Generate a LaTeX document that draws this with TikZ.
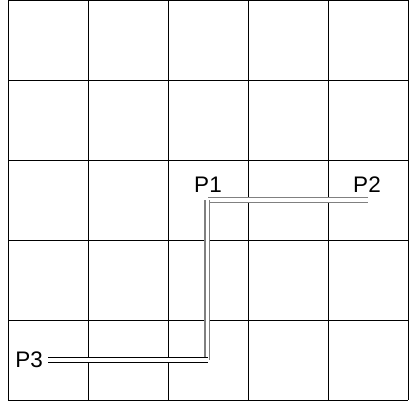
\documentclass[tikz,border=0pt]{standalone}
\usepackage{fontspec}
\setmainfont{Liberation Sans}
\tikzset{
  gridline/.style={line width=0.7pt, black},
  rail/.style={double, double distance=2.2pt, line width=0.9pt, line cap=butt},
  pointlabel/.style={font=\fontsize{16}{19}\selectfont, inner sep=0pt}
}
\begin{document}
\begin{tikzpicture}
    % page frame (410 x 402 px, 40 px = 1 cm)
    \useasboundingbox (0,0) rectangle (10.25,10.05);

    % 5 x 5 grid
    \foreach \i in {0,...,5} {
        \draw[gridline] ({0.2+2*\i}, 0.05) -- ({0.2+2*\i}, 10.05);
        \draw[gridline] (0.2, {0.05+2*\i}) -- (10.2, {0.05+2*\i});
    }

    % points
    \coordinate (p1) at (5.2, 5.05);
    \coordinate (p2) at (9.2, 5.05);
    \coordinate (p3) at (1.2, 1.05);
    \coordinate (bend) at (5.2, 1.05);

    % labels
    \node[pointlabel, anchor=base] (l1) at (5.2, 5.225) {P1};
    \node[pointlabel, anchor=base] (l2) at (9.175, 5.225) {P2};
    \node[pointlabel, anchor=east] (l3) at (1.08, 1.05) {P3};

    % rails
    \draw[rail, draw=gray] (p1) -- (p2);
    \draw[rail, draw=gray] ([xshift=-0.5pt]p1) -- ([xshift=-0.5pt]bend);
    \draw[rail, draw=black] (p3) -- (bend);
\end{tikzpicture}
\end{document}
